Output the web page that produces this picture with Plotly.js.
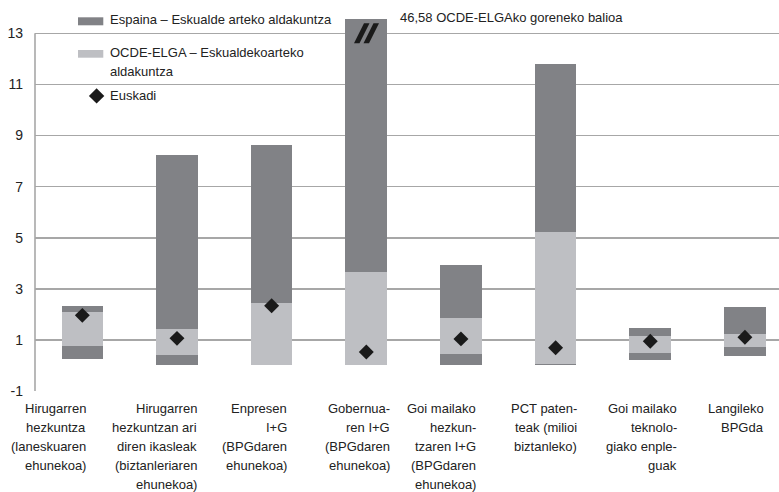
<!DOCTYPE html>
<html><head><meta charset="utf-8">
<script src="https://cdn.plot.ly/plotly-3.0.1.min.js"></script>
<style>html,body{margin:0;padding:0;background:#fff;}#chart{width:779px;height:492px;}</style>
</head><body><div id="chart"></div>
<script>
// ---- data ----
const categoryLines = [
  ['Hirugarren','hezkuntza','(laneskuaren','ehunekoa)'],
  ['Hirugarren','hezkuntzan ari','diren ikasleak','(biztanleriaren','ehunekoa)'],
  ['Enpresen','I+G','(BPGdaren','ehunekoa)'],
  ['Gobernua-','ren I+G','(BPGdaren','ehunekoa)'],
  ['Goi mailako','hezkun-','tzaren I+G','(BPGdaren','ehunekoa)'],
  ['PCT paten-','teak (milioi','biztanleko)'],
  ['Goi mailako','teknolo-','giako enple-','guak'],
  ['Langileko','BPGda']
];
const categories = categoryLines.map(l => l.join(' '));
const espainaMin = [0.26, 0.00, 0.00, 0.00, 0.00, 0.00, 0.21, 0.36];
const espainaMax = [2.34, 8.23, 8.64, 46.58, 3.95, 11.80, 1.48, 2.30];
const ocdeMin    = [0.77, 0.39, 0.00, 0.00, 0.43, 0.06, 0.47, 0.74];
const ocdeMax    = [2.08, 1.44, 2.43, 3.67, 1.84, 5.24, 1.17, 1.25];
const euskadi    = [1.96, 1.06, 2.34, 0.53, 1.04, 0.69, 0.95, 1.10];
const yTicks     = [-1, 1, 3, 5, 7, 9, 11, 13];
const legendLabels = ['Espaina – Eskualde arteko aldakuntza', 'OCDE-ELGA – Eskualdekoarteko', 'aldakuntza', 'Euskadi'];
const noteText = '46,58 OCDE-ELGAko goreneko balioa';

// ---- styling ----
const DARK = '#818286', LIGHT = '#bebfc3', GRID = '#a7a7a7', TXT = '#222222';
const FONT = 'Liberation Sans, Arial, sans-serif';
const labelRightOffset = [6, 22, 17, 25.4, 17, 23, 28.4, 20.7];
const L = 35, R = 779, T = 19, B = 391;
const px = x => (x - L) / (R - L);
const py = y => (B - y) / (B - T);

const traces = [
  {type:'bar', x:categories, base:espainaMin, y:espainaMax.map((v,i)=>v-espainaMin[i]),
   marker:{color:DARK, line:{width:0}}, width:0.44, hoverinfo:'skip', showlegend:false},
  {type:'bar', x:categories, base:ocdeMin, y:ocdeMax.map((v,i)=>v-ocdeMin[i]),
   marker:{color:LIGHT, line:{width:0}}, width:0.44, hoverinfo:'skip', showlegend:false},
  {type:'scatter', mode:'markers', x:categories, y:euskadi,
   marker:{symbol:'diamond', size:11.5, color:'#1a1a1a', line:{width:0}}, hoverinfo:'skip', showlegend:false, cliponaxis:false}
];

const annotations = [];
categoryLines.forEach((lines, i) => {
  lines.forEach((ln, j) => {
    annotations.push({xref:'x', x:categories[i], xanchor:'right', xshift:labelRightOffset[i],
      yref:'paper', y:0, yanchor:'middle', yshift:-(17 + 19*j), text:ln, showarrow:false,
      align:'right', font:{family:FONT, size:13, color:TXT}});
  });
});
// legend texts
const legTxt = (t, y) => ({xref:'paper', yref:'paper', x:px(108), y:py(y), xanchor:'left', yanchor:'middle',
  text:t, showarrow:false, font:{family:FONT, size:13, color:TXT}});
annotations.push(legTxt(legendLabels[0], 19.5));
annotations.push(legTxt(legendLabels[1], 52.5));
annotations.push(legTxt(legendLabels[2], 71));
annotations.push(legTxt(legendLabels[3], 95.5));
annotations.push({xref:'paper', yref:'paper', x:px(398), y:py(17.5), xanchor:'left', yanchor:'middle',
  text:noteText, showarrow:false, font:{family:FONT, size:13, color:TXT}});

const rectP = (x0,y0,x1,y1,c) => ({type:'rect', xref:'paper', yref:'paper', x0:px(x0), x1:px(x1), y0:py(y1), y1:py(y0),
  fillcolor:c, line:{width:0}, layer:'above'});
const pathP = (pts, c) => ({type:'path', xref:'paper', yref:'paper',
  path:'M' + pts.map(p => px(p[0]) + ',' + py(p[1])).join(' L') + ' Z', fillcolor:c, line:{width:0}, layer:'above'});

const shapes = [
  {type:'line', xref:'paper', yref:'y', x0:0, x1:0, y0:-1, y1:13, line:{color:GRID, width:1.6}, layer:'above'},
  rectP(78, 17.3, 103.3, 25.3, DARK),
  rectP(78, 50, 103.3, 57.7, LIGHT),
  pathP([[96.6,88.3],[104.3,96],[96.6,103.6],[88.9,96]], '#1a1a1a'),
  pathP([[354,43.3],[359.5,43.3],[369.5,23.3],[364,23.3]], '#1a1a1a'),
  pathP([[363.5,43.3],[369,43.3],[379,23.3],[373.5,23.3]], '#1a1a1a')
];

const layout = {
  width:779, height:492,
  margin:{l:L, r:779-R, t:T, b:492-B, pad:0},
  paper_bgcolor:'#fff', plot_bgcolor:'#fff',
  barmode:'overlay', bargap:0,
  showlegend:false, hovermode:false,
  xaxis:{type:'category', range:[-0.5, 7.36], showgrid:false, zeroline:false, showline:false,
         showticklabels:false, ticks:'', fixedrange:true},
  yaxis:{range:[-1, 13.56], tickmode:'array', tickvals:yTicks, ticktext:yTicks.map(String),
         showgrid:true, gridcolor:GRID, gridwidth:1.6, zeroline:false, showline:false, ticks:'',
         ticklabelstandoff:11, tickfont:{family:FONT, size:14, color:TXT}, fixedrange:true},
  annotations:annotations,
  shapes:shapes
};

Plotly.newPlot('chart', traces, layout, {displayModeBar:false, staticPlot:true});
</script>
</body></html>
